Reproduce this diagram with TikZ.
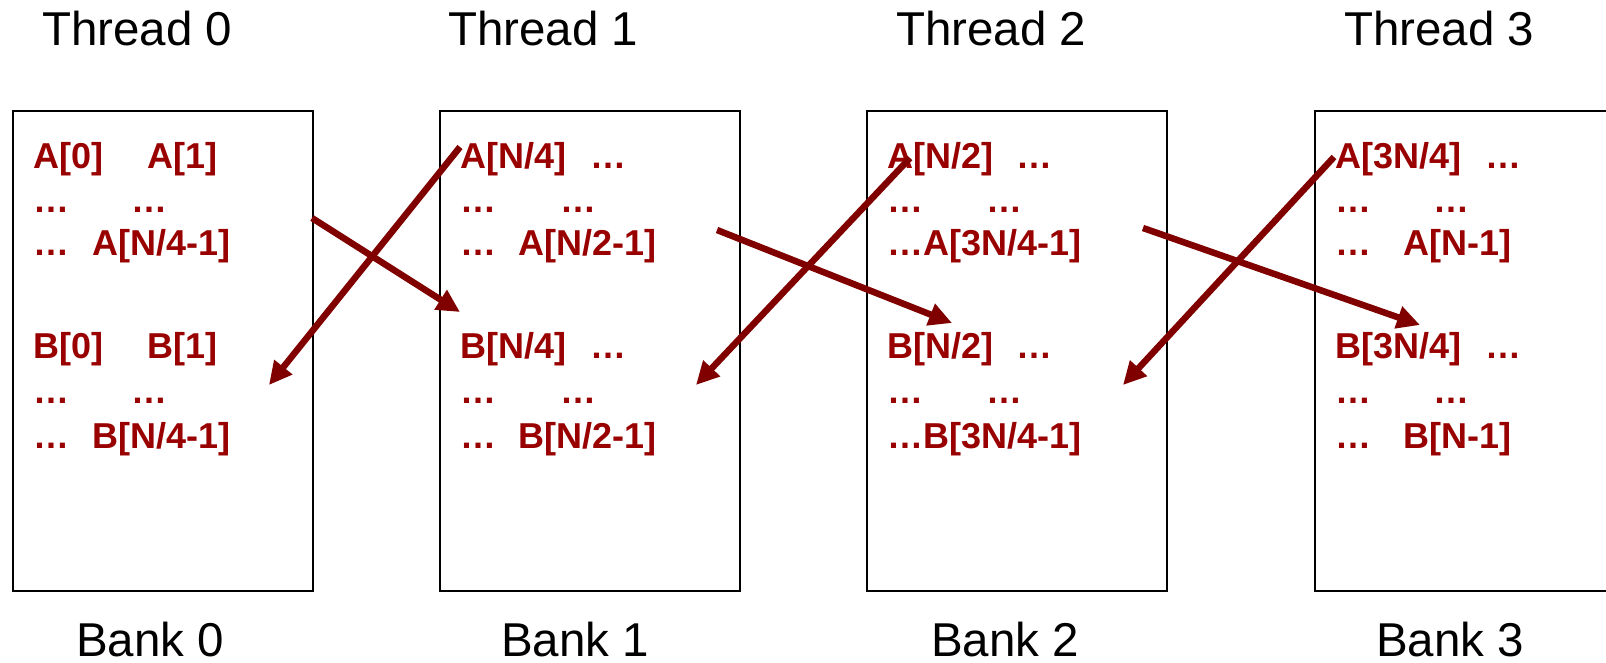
\documentclass[tikz,border=0pt]{standalone}
\usepackage{fontspec}
\setmainfont{Liberation Sans}
\usetikzlibrary{arrows.meta}
\definecolor{celltext}{RGB}{153,0,0}
\definecolor{flow}{RGB}{128,0,0}
\tikzset{
  bankbox/.style={draw=black, line width=2pt, rectangle, anchor=north west,
    minimum width=300pt, minimum height=480pt, inner sep=0pt},
  caption/.style={anchor=base west, inner sep=0pt, text=black,
    font=\fontsize{47.5}{56}\selectfont},
  cell/.style={anchor=base west, inner sep=0pt, text=celltext,
    font=\fontsize{36}{40}\selectfont\bfseries},
  swap/.style={draw=flow, line width=6.5pt,
    -{Triangle[length=23pt,width=22pt]}},
}
\newcommand{\pair}[3]{\makebox[#1pt][l]{#2}#3}
\begin{document}
\begin{tikzpicture}[x=1pt, y=-1pt]
  \useasboundingbox (0,0) rectangle (1606,662);
  \clip (0,0) rectangle (1606,662);

  % memory banks
  \node[bankbox] (bank0) at (12,110) {};
  \node[bankbox] (bank1) at (439,110) {};
  \node[bankbox] (bank2) at (866,110) {};
  \node[bankbox] (bank3) at (1314,110) {};

  % thread and bank captions
  \node[caption] (t0) at (42,45) {Thread 0};
  \node[caption] (t1) at (448,45) {Thread 1};
  \node[caption] (t2) at (896,45) {Thread 2};
  \node[caption] (t3) at (1344,45) {Thread 3};
  \node[caption] (k0) at (76,656) {Bank 0};
  \node[caption] (k1) at (501,656) {Bank 1};
  \node[caption] (k2) at (931,656) {Bank 2};
  \node[caption] (k3) at (1376,656) {Bank 3};

  % bank 0 contents
  \node[cell] (c0a1) at (33,168) {\pair{114}{A[0]}{A[1]}};
  \node[cell] (c0a2) at (33,212) {\pair{98}{…}{…}};
  \node[cell] (c0a3) at (33,255) {\pair{59}{…}{A[N/4-1]}};
  \node[cell] (c0b1) at (33,358) {\pair{114}{B[0]}{B[1]}};
  \node[cell] (c0b2) at (33,403) {\pair{98}{…}{…}};
  \node[cell] (c0b3) at (33,448) {\pair{59}{…}{B[N/4-1]}};

  % bank 1 contents
  \node[cell] (c1a1) at (460,168) {\pair{130}{A[N/4]}{…}};
  \node[cell] (c1a2) at (460,212) {\pair{100}{…}{…}};
  \node[cell] (c1a3) at (460,255) {\pair{58}{…}{A[N/2-1]}};
  \node[cell] (c1b1) at (460,358) {\pair{130}{B[N/4]}{…}};
  \node[cell] (c1b2) at (460,403) {\pair{100}{…}{…}};
  \node[cell] (c1b3) at (460,448) {\pair{58}{…}{B[N/2-1]}};

  % bank 2 contents
  \node[cell] (c2a1) at (887,168) {\pair{129}{A[N/2]}{…}};
  \node[cell] (c2a2) at (887,212) {\pair{99}{…}{…}};
  \node[cell] (c2a3) at (887,255) {…A[3N/4-1]};
  \node[cell] (c2b1) at (887,358) {\pair{129}{B[N/2]}{…}};
  \node[cell] (c2b2) at (887,403) {\pair{99}{…}{…}};
  \node[cell] (c2b3) at (887,448) {…B[3N/4-1]};

  % bank 3 contents
  \node[cell] (c3a1) at (1335,168) {\pair{150}{A[3N/4]}{…}};
  \node[cell] (c3a2) at (1335,212) {\pair{98}{…}{…}};
  \node[cell] (c3a3) at (1335,255) {\pair{68}{…}{A[N-1]}};
  \node[cell] (c3b1) at (1335,358) {\pair{150}{B[3N/4]}{…}};
  \node[cell] (c3b2) at (1335,403) {\pair{98}{…}{…}};
  \node[cell] (c3b3) at (1335,448) {\pair{68}{…}{B[N-1]}};

  % arrow end points
  \coordinate (s1) at (312,218);  \coordinate (e1) at (460,312);
  \coordinate (s2) at (460,147);  \coordinate (e2) at (269,385);
  \coordinate (s3) at (717,230);  \coordinate (e3) at (952,323);
  \coordinate (s4) at (910,158);  \coordinate (e4) at (696,385);
  \coordinate (s5) at (1143,228); \coordinate (e5) at (1420,325);
  \coordinate (s6) at (1334,157); \coordinate (e6) at (1123,385);

  % crossing transfers between neighbouring banks
  \draw[swap] (s1) -- (e1);
  \draw[swap] (s2) -- (e2);
  \draw[swap] (s3) -- (e3);
  \draw[swap] (s4) -- (e4);
  \draw[swap] (s5) -- (e5);
  \draw[swap] (s6) -- (e6);
\end{tikzpicture}
\end{document}
